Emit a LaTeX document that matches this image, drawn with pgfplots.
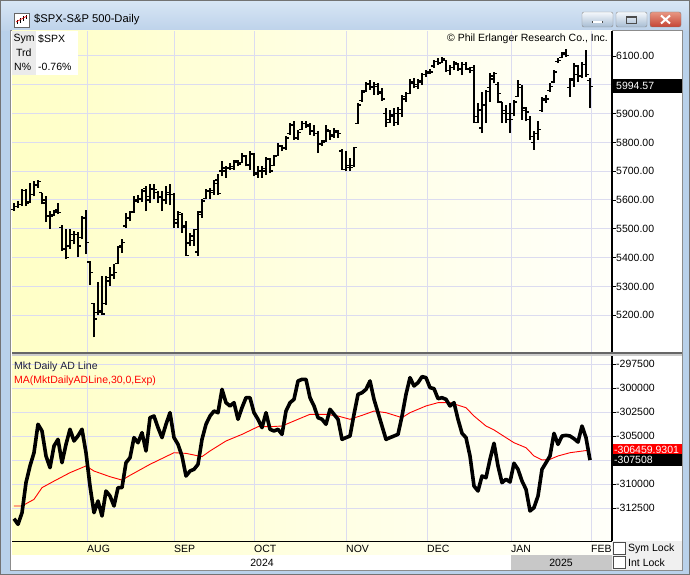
\documentclass[border=0pt]{standalone}
\usepackage{fontspec}
\setmainfont{Liberation Sans}
\usepackage{pgfplots}
\usepackage{pgfplotstable}
\pgfplotsset{compat=1.18}

\definecolor{frameblue}{RGB}{185,209,234}
\definecolor{titletop}{RGB}{216,230,245}
\definecolor{titlebot}{RGB}{189,210,234}
\definecolor{gridlav}{RGB}{220,220,240}
\definecolor{chartyel}{RGB}{255,255,198}
\definecolor{chartmid}{RGB}{255,255,226}
\definecolor{chartwht}{RGB}{255,255,250}
\definecolor{lockgray}{RGB}{240,240,240}
\definecolor{yeargray}{RGB}{200,200,200}
\definecolor{legnavy}{RGB}{30,30,60}
\newcommand\lbl{\fontsize{10.5}{12}\selectfont}

% S&P 500 daily bars: day index, open, high, low, close
\pgfplotstableread{
d O H L C
0 5568 5590 5562 5578
1 5578 5596 5573 5585
2 5585 5637 5579 5632
3 5632 5639 5579 5590
4 5595 5660 5590 5619
5 5619 5665 5613 5654
6 5650 5671 5642 5665
7 5625 5625 5585 5590
8 5600 5613 5523 5544
9 5544 5561 5500 5544
10 5548 5567 5544 5558
11 5565 5590 5550 5556
12 5505 5512 5423 5429
13 5430 5498 5394 5400
14 5440 5498 5429 5481
15 5460 5492 5446 5481
16 5480 5489 5402 5440
17 5470 5544 5463 5538
18 5540 5567 5412 5452
19 5385 5389 5304 5348
20 5240 5244 5123 5187
21 5210 5314 5200 5210
22 5215 5337 5200 5204
23 5240 5337 5235 5319
24 5330 5366 5302 5337
25 5340 5377 5327 5348
26 5380 5440 5377 5435
27 5440 5466 5417 5452
28 5510 5556 5504 5538
29 5540 5561 5527 5558
30 5560 5613 5556 5596
31 5600 5619 5590 5602
32 5605 5637 5593 5631
33 5640 5648 5561 5613
34 5600 5654 5590 5637
35 5640 5654 5602 5637
36 5625 5631 5590 5613
37 5610 5631 5561 5602
38 5600 5650 5585 5625
39 5620 5654 5581 5619
40 5620 5625 5504 5533
41 5520 5561 5504 5556
42 5550 5556 5487 5504
43 5510 5527 5406 5408
44 5450 5484 5440 5475
45 5460 5500 5440 5498
46 5420 5561 5406 5558
47 5550 5602 5538 5596
48 5605 5637 5602 5631
49 5630 5642 5604 5634
50 5625 5671 5619 5657
51 5670 5690 5619 5623
52 5700 5734 5683 5711
53 5700 5717 5677 5711
54 5712 5728 5705 5717
55 5710 5740 5705 5735
56 5730 5740 5717 5725
57 5730 5763 5728 5755
58 5750 5757 5717 5722
59 5720 5769 5705 5760
60 5760 5763 5682 5695
61 5690 5719 5677 5700
62 5700 5717 5677 5710
63 5700 5751 5688 5745
64 5740 5746 5694 5700
65 5720 5757 5717 5750
66 5755 5798 5752 5790
67 5785 5792 5769 5780
68 5780 5821 5775 5815
69 5830 5867 5827 5860
70 5860 5873 5809 5815
71 5815 5844 5809 5835
72 5845 5873 5844 5865
73 5865 5873 5850 5855
74 5860 5867 5827 5840
75 5840 5861 5821 5830
76 5830 5838 5763 5795
77 5795 5809 5786 5800
78 5805 5861 5803 5845
79 5840 5844 5809 5820
80 5825 5849 5815 5840
81 5835 5844 5815 5830
82 5770 5777 5705 5705
83 5705 5769 5699 5712
84 5720 5746 5700 5712
85 5720 5784 5715 5782
86 5866 5936 5864 5930
87 5945 5982 5942 5975
88 5980 6011 5976 6005
89 6000 6017 5982 5990
90 5995 6011 5965 6000
91 5995 6005 5965 5975
92 5970 5988 5945 5950
93 5900 5919 5853 5870
94 5880 5913 5867 5895
95 5890 5919 5857 5900
96 5870 5924 5861 5915
97 5900 5965 5887 5960
98 5950 5976 5942 5970
99 5970 6019 5968 6010
100 6005 6022 5988 6000
101 5995 6019 5984 6015
102 6010 6040 5999 6035
103 6035 6051 6028 6040
104 6045 6054 6037 6045
105 6065 6086 6060 6080
106 6080 6092 6069 6075
107 6078 6097 6074 6090
108 6085 6086 6045 6050
109 6050 6069 6034 6060
110 6060 6084 6051 6075
111 6070 6074 6049 6055
112 6055 6080 6034 6070
113 6070 6080 6051 6055
114 6055 6063 6040 6050
115 6060 6069 5867 5869
116 5890 5936 5867 5913
117 5850 5976 5832 5930
118 5930 5982 5867 5976
119 5990 6040 5942 6030
120 6020 6045 6005 6040
121 6000 6011 5936 5970
122 5940 5942 5867 5910
123 5900 5930 5867 5880
124 5900 5936 5832 5880
125 5900 5947 5890 5940
126 5960 6017 5959 6000
127 5990 5999 5878 5920
128 5910 5924 5873 5905
129 5880 5890 5809 5820
130 5800 5838 5775 5830
131 5830 5873 5809 5845
132 5910 5959 5907 5950
133 5945 5965 5936 5950
134 5980 6005 5976 5995
135 6010 6051 6005 6045
136 6080 6092 6074 6085
137 6095 6115 6092 6105
138 6110 6126 6097 6102
139 5990 6022 5959 6015
140 6020 6074 5994 6065
141 6035 6069 6011 6030
142 6030 6080 6022 6070
143 6070 6120 6028 6035
144 6015 6022 5919 5994.57
}\spx

% Market daily advance-decline line
\pgfplotstableread{
d ad
0 -313610
1 -314200
2 -313000
3 -309860
4 -308125
5 -306740
6 -303780
7 -304480
8 -307080
9 -308300
10 -306040
11 -305350
12 -307780
13 -305870
14 -304300
15 -305520
16 -304990
17 -304300
18 -306740
19 -310210
20 -312990
21 -311770
22 -313330
23 -310730
24 -311250
25 -312290
26 -310380
27 -310380
28 -307780
29 -307260
30 -305170
31 -305700
32 -304650
33 -306560
34 -303090
35 -302920
36 -304130
37 -305170
38 -303780
39 -302570
40 -305170
41 -305870
42 -307080
43 -309170
44 -308650
45 -308470
46 -307950
47 -305350
48 -303780
49 -302920
50 -302400
51 -302570
52 -300140
53 -301530
54 -301870
55 -301530
56 -303260
57 -302050
58 -301010
59 -301010
60 -302570
61 -303260
62 -304130
63 -302570
64 -304300
65 -304480
66 -304300
67 -304830
68 -302400
69 -301530
70 -301180
71 -299270
72 -299100
73 -299100
74 -301010
75 -301870
76 -303090
77 -303260
78 -303780
79 -302220
80 -302740
81 -303260
82 -305350
83 -305170
84 -305000
85 -302740
86 -300660
87 -300490
88 -300140
89 -299270
90 -301180
91 -302570
92 -303960
93 -305350
94 -305170
95 -305000
96 -304830
97 -302920
98 -300660
99 -298920
100 -299790
101 -299440
102 -298820
103 -298920
104 -299960
105 -300070
106 -301110
107 -301010
108 -301180
109 -301870
110 -301530
111 -303260
112 -304720
113 -305170
114 -307080
115 -310210
116 -310730
117 -309170
118 -309340
119 -307430
120 -305760
121 -308120
122 -309860
123 -309510
124 -309790
125 -307840
126 -308470
127 -309690
128 -310560
129 -312810
130 -312460
131 -311250
132 -308470
133 -307780
134 -307080
135 -304720
136 -305870
137 -305000
138 -304930
139 -305000
140 -305280
141 -305630
142 -303960
143 -305170
144 -307508
}\adline

% 30-day exponential moving average of the AD line
\pgfplotstableread{
d ma
0 -312290
2 -312290
5 -311600
7 -310380
10 -309700
14 -308820
18 -308120
20 -308650
24 -309240
27 -309590
29 -309100
34 -307950
40 -306740
43 -306810
47 -307150
49 -306560
53 -305520
57 -304830
61 -304030
64 -304030
67 -303960
71 -303260
74 -302740
78 -302740
81 -302920
84 -303260
87 -302850
90 -302400
93 -302570
97 -303090
99 -302570
103 -301870
106 -301530
109 -301530
113 -302050
115 -302920
118 -303960
120 -304370
123 -305170
125 -305700
128 -306220
130 -307080
132 -307500
134 -307430
136 -307080
139 -306740
144 -306460
}\adma

\begin{document}
\begin{tikzpicture}
\begin{scope}[x=1pt,y=-1pt]
\useasboundingbox (0,0) rectangle (690,575);
% window frame
\fill[frameblue] (0,0) rectangle (690,575);
\shade[top color=titletop, bottom color=titlebot] (0,0) rectangle (690,31);
\draw[black!55] (0.5,0.5) rectangle (689.5,574.5);
\draw[black!45] (10.5,30.5) rectangle (682.5,570.5);
\fill[white] (11,31) rectangle (682,570);
% title icon and text
\fill[white] (14,13) rectangle (29,27);
\draw[black!60] (14,13) rectangle (29,27);
\draw[black, line width=0.8pt] (17,24)--(17,20) (20,23)--(20,18) (23,21)--(23,16) (26,19)--(26,15);
\draw[red, line width=0.6pt] (16,22)--(27,16);
\node[anchor=west, inner sep=0pt, font=\fontsize{11.2}{13}\selectfont] at (34,19.5) {\$SPX-S\&P 500-Daily};
% window buttons
\shade[rounded corners=2pt, top color=white!85!frameblue, bottom color=frameblue!90!black, draw=black!45] (582,12) rectangle (613,27);
\shade[rounded corners=2pt, top color=white!85!frameblue, bottom color=frameblue!90!black, draw=black!45] (616,12) rectangle (647,27);
\shade[rounded corners=2pt, top color={rgb,255:red,232;green,150;blue,130}, bottom color={rgb,255:red,196;green,68;blue,52}, draw=black!50] (650,12) rectangle (681,27);
\fill[black!70] (592,21) rectangle (603,23.5);
\fill[white] (593,21.5) rectangle (602,23);
\draw[black!70, line width=1pt] (626.5,16.5) rectangle (636.5,23.5);
\fill[black!70] (626.5,16) rectangle (636.5,18);
\draw[white, line width=2pt] (661,15.5)--(670,23.5) (670,15.5)--(661,23.5);
% chart backgrounds
\shade[left color=chartyel, right color=chartwht, middle color=chartmid] (12,31) rectangle (612,352);
\shade[left color=chartyel, right color=chartwht, middle color=chartmid] (12,356) rectangle (612,555);
\fill[white] (12,555) rectangle (612,570);
\fill[yeargray] (511,555) rectangle (612,570);
\fill[lockgray] (612,541) rectangle (682,570);
\end{scope}

% price panel
\begin{axis}[
  at={(12pt,-31pt)}, anchor=north west,
  scale only axis, width=600pt, height=321pt,
  xmin=-0.5, xmax=149.5, ymin=5072.2, ymax=6186.8,
  axis line style={draw=none},
  xtick={18.25,40,60,83,103.25,124.25,144.25}, xticklabels={},
  xtick style={draw=none},
  ytick={5200,5300,5400,5500,5600,5700,5800,5900,6000,6100},
  yticklabels={5200.00,5300.00,5400.00,5500.00,5600.00,5700.00,5800.00,5900.00,,6100.00},
  ytick pos=right, yticklabel pos=right,
  tick align=outside, major tick length=4pt,
  ytick style={draw=black, line width=0.8pt},
  yticklabel style={anchor=west, inner sep=0pt, font=\lbl},
  scaled y ticks=false,
  grid=major, grid style={gridlav, line width=1pt},
  clip=false,
]
\addplot[draw=none, mark=none, forget plot,
  error bars/.cd, y dir=plus, y explicit, error mark=none,
  error bar style={draw=black, line width=1.4pt}]
  table[x=d, y=L, y error expr=\thisrow{H}-\thisrow{L}] {\spx};
\addplot[draw=none, mark=none, forget plot,
  error bars/.cd, x dir=minus, x fixed=0.75, error mark=none,
  error bar style={draw=black, line width=1.4pt}]
  table[x=d, y=O] {\spx};
\addplot[draw=none, mark=none, forget plot,
  error bars/.cd, x dir=plus, x fixed=0.75, error mark=none,
  error bar style={draw=black, line width=1.4pt}]
  table[x=d, y=C] {\spx};
\node[anchor=west, fill=black, text=white, minimum height=14pt, text width=62pt,
  inner xsep=4pt, inner ysep=0pt, align=left, font=\lbl] at (axis cs:149.5,5994.57) {5994.57};
\end{axis}

% advance-decline panel
\begin{axis}[
  at={(12pt,-356pt)}, anchor=north west,
  scale only axis, width=600pt, height=185pt,
  xmin=-0.5, xmax=149.5, ymin=-315938, ymax=-296667,
  axis line style={draw=none},
  xtick={18.25,40,60,83,103.25,124.25,144.25},
  xticklabels={AUG,SEP,OCT,NOV,DEC,JAN,FEB},
  xtick style={draw=none},
  xticklabel style={anchor=north west, inner sep=0pt, font=\lbl},
  ytick={-312500,-310000,-307500,-305000,-302500,-300000,-297500},
  yticklabels={-312500,-310000,,-305000,-302500,-300000,-297500},
  ytick pos=right, yticklabel pos=right,
  tick align=outside, major tick length=4pt,
  ytick style={draw=black, line width=0.8pt},
  yticklabel style={anchor=west, inner sep=0pt, font=\lbl},
  scaled y ticks=false,
  grid=major, grid style={gridlav, line width=1pt},
  clip=false,
]
\addplot[red, line width=0.9pt] table[x=d, y=ma] {\adma};
\addplot[black, line width=3.6pt, line join=round] table[x=d, y=ad] {\adline};
\node[anchor=west, fill=red, text=white, minimum height=11.5pt, text width=66pt,
  inner xsep=2pt, inner ysep=0pt, align=left, font=\lbl] at (axis cs:149.5,-306459.93) {-306459.9301};
\node[anchor=west, fill=black, text=white, minimum height=12pt, text width=66pt,
  inner xsep=2pt, inner ysep=0pt, align=left, font=\lbl] at (axis cs:149.5,-307508) {-307508};
\end{axis}

\begin{scope}[x=1pt,y=-1pt]
% panel frame lines
\fill[black!60] (12,352) rectangle (682,354);
\fill[black!20] (12,354) rectangle (682,356);
\draw[black, line width=1.2pt] (612,31)--(612,352) (612,356)--(612,541);
\draw[black, line width=1pt] (12,541)--(612,541);
% info box
\fill[white] (12,31) rectangle (78,75);
\fill[black!8] (12,31) rectangle (36,75);
\node[anchor=west, inner sep=0pt, font=\lbl] at (13.5,39) {Sym};
\node[anchor=west, inner sep=0pt, font=\lbl] at (38,39) {\$SPX};
\node[anchor=west, inner sep=0pt, font=\lbl] at (16,53) {Trd};
\node[anchor=west, inner sep=0pt, font=\lbl] at (14,67) {N\%};
\node[anchor=west, inner sep=0pt, font=\lbl] at (38,67) {-0.76\%};
\node[anchor=east, inner sep=0pt, font=\lbl] at (608,39) {\textcopyright{} Phil Erlanger Research Co., Inc.};
% indicator legend
\node[anchor=west, inner sep=0pt, font=\lbl, text=legnavy] at (14,367) {Mkt Daily AD Line};
\node[anchor=west, inner sep=0pt, font=\lbl, text=red] at (14,381) {MA(MktDailyADLine,30,0,Exp)};
% year row and locks
\node[inner sep=0pt, font=\lbl] at (262,562.5) {2024};
\node[inner sep=0pt, font=\lbl] at (561,562.5) {2025};
\fill[white] (613,542) rectangle (625,554);
\draw[black!70] (613.5,542.5) rectangle (625.5,554.5);
\fill[white] (613,556) rectangle (625,568);
\draw[black!70] (613.5,556.5) rectangle (625.5,568.5);
\node[anchor=west, inner sep=0pt, font=\lbl] at (628,548.5) {Sym Lock};
\node[anchor=west, inner sep=0pt, font=\lbl] at (628,562.5) {Int Lock};
\end{scope}
\end{tikzpicture}
\end{document}
